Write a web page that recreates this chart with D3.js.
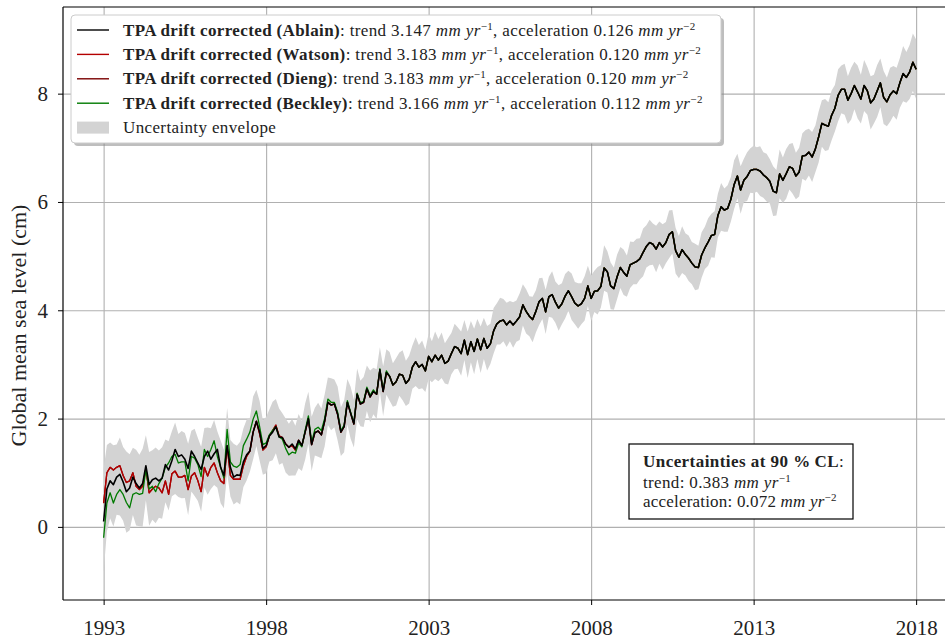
<!DOCTYPE html>
<html><head><meta charset="utf-8">
<script src="https://cdn.jsdelivr.net/npm/d3@7"></script>
<style>
body{margin:0;background:#fff}
svg{display:block;font-family:"Liberation Serif","DejaVu Serif",serif}
</style>
</head><body>
<svg id="chart" width="945" height="639"></svg>
<script>
// ---- data (cm), sampled every 0.1 yr from 1993.0 ----
const timeStart = 1993.0;
const timeStep = 0.1;
const ablain = [
0.10,0.70,0.85,0.78,0.92,0.97,0.83,0.65,0.72,0.92,
0.80,0.72,0.80,1.13,0.78,0.87,0.90,0.85,0.90,1.15,
1.05,1.22,1.43,1.30,1.33,1.25,1.08,1.40,1.30,1.18,
1.06,1.30,1.40,1.25,1.35,1.43,1.10,0.95,1.50,1.10,
0.92,0.96,0.95,1.20,1.33,1.40,1.75,1.95,1.75,1.45,
1.50,1.68,1.75,1.85,1.66,1.65,1.53,1.47,1.53,1.44,
1.60,1.50,1.75,2.00,1.52,1.74,1.77,1.70,1.95,2.30,
2.25,2.27,2.08,1.75,1.85,2.30,2.10,1.90,2.45,2.27,
2.30,2.55,2.40,2.50,2.45,2.90,2.50,2.85,2.78,2.62,
2.68,2.82,2.80,2.65,2.72,2.95,3.05,2.95,3.00,2.88,
3.15,3.05,3.17,3.08,3.17,3.02,3.06,3.20,3.33,3.30,
3.20,3.45,3.18,3.42,3.24,3.47,3.27,3.48,3.30,3.38,
3.62,3.75,3.80,3.82,3.73,3.80,3.73,3.80,3.88,4.10,
3.98,3.89,3.83,3.98,4.16,4.22,3.97,4.25,4.29,4.15,
4.04,4.12,4.26,4.36,4.25,4.13,4.08,4.12,4.22,4.45,
4.22,4.35,4.36,4.44,4.78,4.71,4.45,4.40,4.62,4.79,
4.70,4.63,4.84,4.87,4.90,4.95,5.07,5.18,5.25,5.22,
5.13,5.25,5.17,5.25,5.40,5.45,5.10,4.98,5.12,5.03,
4.96,4.87,4.80,4.79,5.02,5.15,5.26,5.38,5.40,5.75,
5.91,5.85,5.88,6.05,6.32,6.48,6.22,6.40,6.47,6.58,
6.60,6.60,6.57,6.50,6.45,6.38,6.20,6.17,6.52,6.40,
6.52,6.65,6.62,6.48,6.55,6.85,6.86,6.92,6.83,6.98,
7.20,7.45,7.42,7.40,7.60,7.73,7.97,8.08,8.08,7.88,
8.00,8.15,8.03,7.90,8.15,8.05,7.83,7.90,8.05,8.20,
7.93,7.85,7.98,8.05,8.00,8.20,8.37,8.30,8.40,8.58,
8.45];
// Watson / Dieng differ from Ablain only before 1999 (identical afterwards)
const watsonEarly = [
0.44,1.00,1.10,1.05,1.10,1.13,0.95,0.82,0.85,1.00,
0.75,0.69,0.75,1.08,0.63,0.70,0.75,0.72,0.63,0.85,
0.60,0.98,1.03,0.92,0.92,0.95,0.69,0.94,1.00,0.85,
0.65,1.10,0.94,1.10,1.18,1.00,0.85,0.80,1.49,0.95,
0.88,0.88,0.88,1.13,1.30,1.40,1.75,1.95,1.72,1.42,
1.48,1.68,1.78,1.88,1.68,1.65,1.53,1.47,1.50,1.42];
// Beckley differs from Ablain only before 2002
const beckleyEarly = [
-0.20,0.44,0.63,0.44,0.60,0.69,0.60,0.45,0.35,0.60,
0.63,0.60,0.62,1.06,0.70,0.75,0.65,0.80,0.90,1.10,
1.18,1.30,1.34,1.18,1.20,1.20,0.85,1.30,1.27,1.15,
0.93,1.43,1.30,1.43,1.59,1.30,1.10,0.90,1.80,1.20,
1.12,1.10,1.15,1.50,1.62,1.75,1.99,2.14,1.85,1.52,
1.55,1.70,1.78,1.85,1.66,1.62,1.45,1.33,1.38,1.36,
1.55,1.48,1.78,2.05,1.56,1.80,1.84,1.78,2.00,2.36,
2.30,2.30,2.12,1.78,1.88,2.33,2.12,1.92,2.47,2.29,
2.32,2.58,2.43,2.53,2.45,2.92,2.52,2.88,2.78,2.62];
const watson = watsonEarly.concat(ablain.slice(watsonEarly.length));
const dieng = watson.slice();
const beckley = beckleyEarly.concat(ablain.slice(beckleyEarly.length));
// half width of the uncertainty envelope (cm)
const envelopeHalfWidth = [
0.95,0.80,0.70,0.75,0.65,0.72,0.68,0.75,0.70,0.62,
0.70,0.66,0.72,0.60,0.68,0.64,0.70,0.62,0.66,0.58,
0.64,0.60,0.66,0.58,0.62,0.60,0.66,0.56,0.62,0.58,
0.60,0.55,0.62,0.56,0.60,0.52,0.58,0.54,0.60,0.52,
0.56,0.52,0.58,0.54,0.56,0.50,0.58,0.52,0.55,0.50,
0.52,0.48,0.54,0.50,0.52,0.46,0.50,0.48,0.52,0.46,
0.50,0.46,0.52,0.48,0.50,0.44,0.50,0.46,0.48,0.44,
0.48,0.44,0.50,0.45,0.48,0.42,0.48,0.44,0.47,0.42,
0.46,0.42,0.48,0.43,0.46,0.41,0.46,0.42,0.45,0.40,
0.44,0.40,0.46,0.42,0.44,0.40,0.45,0.41,0.44,0.39,
0.42,0.38,0.44,0.39,0.42,0.37,0.43,0.38,0.42,0.38,
0.41,0.37,0.43,0.38,0.42,0.37,0.43,0.38,0.41,0.37,
0.42,0.38,0.43,0.39,0.41,0.37,0.42,0.38,0.43,0.38,
0.41,0.37,0.42,0.39,0.43,0.38,0.41,0.37,0.43,0.38,
0.42,0.38,0.41,0.37,0.43,0.39,0.42,0.38,0.41,0.37,
0.42,0.38,0.44,0.39,0.42,0.38,0.43,0.39,0.41,0.38,
0.42,0.38,0.43,0.39,0.42,0.38,0.44,0.39,0.42,0.38,
0.43,0.39,0.42,0.38,0.44,0.40,0.42,0.39,0.43,0.39,
0.42,0.39,0.43,0.40,0.42,0.39,0.44,0.40,0.43,0.40,
0.44,0.40,0.43,0.41,0.45,0.41,0.44,0.40,0.45,0.41,
0.44,0.41,0.46,0.42,0.44,0.41,0.46,0.42,0.45,0.42,
0.46,0.42,0.47,0.43,0.45,0.42,0.47,0.43,0.46,0.43,
0.47,0.43,0.48,0.44,0.46,0.43,0.48,0.44,0.47,0.44,
0.48,0.44,0.49,0.45,0.47,0.44,0.49,0.45,0.48,0.45,
0.49,0.45,0.50,0.46,0.48,0.46,0.51,0.47,0.50,0.53,
0.55];
const xTicks = [1993, 1998, 2003, 2008, 2013, 2018];
const yTicks = [0, 2, 4, 6, 8];
const seriesNames = ["Ablain", "Watson", "Dieng", "Beckley"];
const seriesTrends = [3.147, 3.183, 3.183, 3.166];
const seriesAccels = [0.126, 0.120, 0.120, 0.112];
const seriesColors = ["#000000", "#b40000", "#7a0000", "#007a00"];
const uncTrend = 0.383, uncAccel = 0.072;

// ---- layout ----
const svg = d3.select("#chart");
const L = 63, T = 7, B = 600;
const x = d3.scaleLinear().domain([1991.75, 2019.25]).range([L, 956.75]);
const y = d3.scaleLinear().domain([-1.35, 9.6]).range([B, T]);
const tOf = i => timeStart + i * timeStep;

svg.append("defs").append("clipPath").attr("id", "clip")
  .append("rect").attr("x", L).attr("y", T).attr("width", 900).attr("height", B - T);

// grid
const grid = svg.append("g");
grid.append("g").attr("transform", `translate(0,${B})`)
  .call(d3.axisBottom(x).tickValues(xTicks).tickSize(-(B - T)).tickFormat(""))
  .call(g => g.select(".domain").remove())
  .call(g => g.selectAll("line").attr("stroke", "#b0b0b0").attr("stroke-width", 1.1));
grid.append("g").attr("transform", `translate(${L},0)`)
  .call(d3.axisLeft(y).tickValues(yTicks).tickSize(-900).tickFormat(""))
  .call(g => g.select(".domain").remove())
  .call(g => g.selectAll("line").attr("stroke", "#b0b0b0").attr("stroke-width", 1.1));

const plot = svg.append("g").attr("clip-path", "url(#clip)");
const idx = d3.range(ablain.length);
const centre = i => d3.mean([ablain[i], watson[i], beckley[i]]);
plot.append("path").datum(idx)
  .attr("fill", "#d3d3d3")
  .attr("d", d3.area().x(i => x(tOf(i)))
    .y0(i => y(centre(i) - envelopeHalfWidth[i]))
    .y1(i => y(centre(i) + envelopeHalfWidth[i])));

const line = arr => d3.line().x((d, i) => x(tOf(i))).y(d => y(d))(arr);
[[dieng, 2, 1.3], [watson, 1, 1.3], [beckley, 3, 1.3], [ablain, 0, 1.6]].forEach(([arr, k, w]) => {
  plot.append("path").attr("d", line(arr)).attr("fill", "none")
    .attr("stroke", seriesColors[k]).attr("stroke-width", w).attr("stroke-linejoin", "round");
});

// axes
const fs = 21;
const xAxis = svg.append("g").attr("transform", `translate(0,${B})`)
  .call(d3.axisBottom(x).tickValues(xTicks).tickFormat(d3.format("d")).tickSize(5).tickPadding(15));
const yAxis = svg.append("g").attr("transform", `translate(${L},0)`)
  .call(d3.axisLeft(y).tickValues(yTicks).tickSize(5).tickPadding(10));
[xAxis, yAxis].forEach(a => {
  a.select(".domain").remove();
  a.selectAll("line").attr("stroke", "#000").attr("stroke-width", 1);
  a.selectAll("text").attr("font-size", fs).attr("fill", "#222").attr("font-family", "Liberation Serif");
});
// spines
svg.append("line").attr("x1", L).attr("x2", 945).attr("y1", B).attr("y2", B).attr("stroke", "#000").attr("stroke-width", 1.2);
svg.append("line").attr("x1", L).attr("x2", 945).attr("y1", T).attr("y2", T).attr("stroke", "#000").attr("stroke-width", 1.2);
svg.append("line").attr("x1", L).attr("x2", L).attr("y1", T).attr("y2", B).attr("stroke", "#000").attr("stroke-width", 1.2);

// y label
svg.append("text").attr("transform", `translate(26,${(T + B) / 2 + 22}) rotate(-90)`)
  .attr("text-anchor", "middle").attr("font-size", 22).attr("fill", "#222")
  .text("Global mean sea level (cm)");

// legend
const lg = svg.append("g");
const lx = 71, ly = 15, lw = 650, lh = 128;
lg.append("rect").attr("x", lx + 3).attr("y", ly + 3).attr("width", lw).attr("height", lh)
  .attr("rx", 4).attr("fill", "#888").attr("opacity", 0.55);
lg.append("rect").attr("x", lx).attr("y", ly).attr("width", lw).attr("height", lh)
  .attr("rx", 4).attr("fill", "#fff").attr("stroke", "#cccccc").attr("stroke-width", 1);
const rowY = k => 30 + k * 24.4;
const lfs = 17;
function unit(t, p) {
  t.append("tspan").attr("font-style", "italic").text(" mm yr");
  t.append("tspan").attr("font-size", 11).attr("dy", -6).text(p);
}
seriesNames.forEach((name, k) => {
  const yy = rowY(k);
  lg.append("line").attr("x1", 77).attr("x2", 109).attr("y1", yy).attr("y2", yy)
    .attr("stroke", seriesColors[k]).attr("stroke-width", 1.4);
  const t = lg.append("text").attr("x", 123).attr("y", yy + 5.5).attr("font-size", lfs)
    .attr("letter-spacing", 0.37).attr("fill", "#222");
  t.append("tspan").attr("font-weight", "bold").text(`TPA drift corrected (${name})`);
  t.append("tspan").text(`: trend ${seriesTrends[k].toFixed(3)}`);
  unit(t, "−1");
  t.append("tspan").attr("dy", 6).text(`, acceleration ${seriesAccels[k].toFixed(3)}`);
  unit(t, "−2");
});
lg.append("rect").attr("x", 77).attr("y", rowY(4) - 6).attr("width", 32).attr("height", 12).attr("fill", "#d3d3d3");
lg.append("text").attr("x", 123).attr("y", rowY(4) + 5.5).attr("font-size", lfs)
  .attr("letter-spacing", 0.37).attr("fill", "#222").text("Uncertainty envelope");

// uncertainty box
const ab = svg.append("g");
ab.append("rect").attr("x", 629).attr("y", 444).attr("width", 224).attr("height", 75)
  .attr("fill", "#fff").attr("stroke", "#000").attr("stroke-width", 1.2);
const afs = 17;
const a1 = ab.append("text").attr("x", 643).attr("y", 467).attr("font-size", afs).attr("fill", "#222");
a1.append("tspan").attr("font-weight", "bold").attr("letter-spacing", 0.45).text("Uncertainties at 90 %\u2009CL");
a1.append("tspan").text(":");
const a2 = ab.append("text").attr("x", 643).attr("y", 488).attr("font-size", afs)
  .attr("letter-spacing", 0.35).attr("fill", "#222");
a2.append("tspan").text(`trend: ${uncTrend.toFixed(3)}`);
unit(a2, "−1");
const a3 = ab.append("text").attr("x", 643).attr("y", 507).attr("font-size", afs)
  .attr("letter-spacing", 0.2).attr("fill", "#222");
a3.append("tspan").text(`acceleration: ${uncAccel.toFixed(3)}`);
unit(a3, "−2");
</script>
</body></html>
